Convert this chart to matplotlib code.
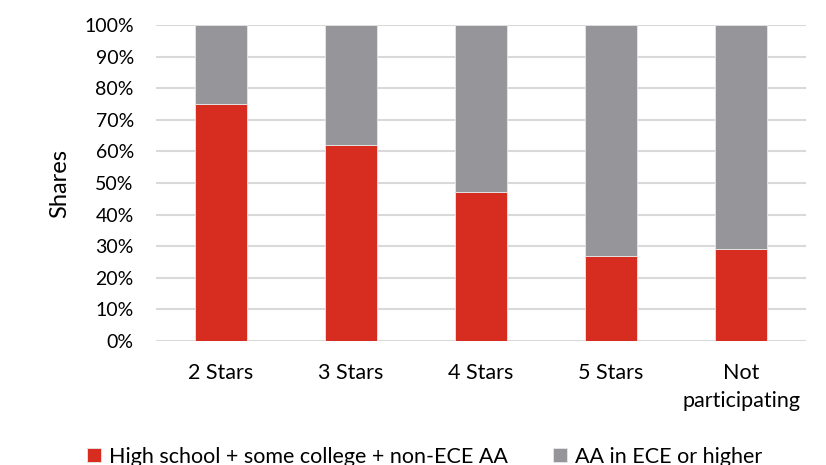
import matplotlib
matplotlib.use("Agg")
import matplotlib.pyplot as plt
import numpy as np
from matplotlib.ticker import PercentFormatter

categories = ["2 Stars", "3 Stars", "4 Stars", "5 Stars", "Not\nparticipating"]
lower_ed = [75, 62, 47, 27, 29]
higher_ed = [25, 38, 53, 73, 71]
series_names = ["High school + some college + non-ECE AA", "AA in ECE or higher"]
colors = ["#D62D20", "#96959A"]

plt.rcParams["font.family"] = ["Lato", "DejaVu Sans"]

fig = plt.figure(figsize=(8.26, 4.65), dpi=100)
ax = fig.add_axes([156 / 826, 1 - 341 / 465, 650 / 826, 316 / 465])

x = np.arange(len(categories))
w = 0.4
ax.bar(x, lower_ed, w, color=colors[0], label=series_names[0], zorder=3,
       edgecolor="#E8E8E8", linewidth=0.6)
ax.bar(x, higher_ed, w, bottom=lower_ed, color=colors[1], label=series_names[1],
       zorder=3, edgecolor="#E8E8E8", linewidth=0.6)

ax.set_xlim(-0.5, len(categories) - 0.5)
ax.set_ylim(0, 100)
ax.set_yticks(np.arange(0, 101, 10))
ax.yaxis.set_major_formatter(PercentFormatter(decimals=0))
ax.set_xticks(x)
ax.set_xticklabels(categories, linespacing=1.5)
ax.tick_params(axis="both", length=0, colors="#000000")
ax.tick_params(axis="y", pad=16, labelsize=14)
ax.tick_params(axis="x", pad=16, labelsize=15.5)
ax.grid(axis="y", color="#D9D9D9", linewidth=1.5, zorder=0)
for s in ax.spines.values():
    s.set_visible(False)
ax.set_ylabel("Shares", fontsize=17, labelpad=10)

fig.legend(loc="lower center", bbox_to_anchor=(0.514, -0.045), ncol=2, frameon=False,
           fontsize=15.5, handlelength=0.65, handleheight=0.65, handletextpad=0.35,
           columnspacing=2.1)

fig.savefig("out.png", dpi=100)
